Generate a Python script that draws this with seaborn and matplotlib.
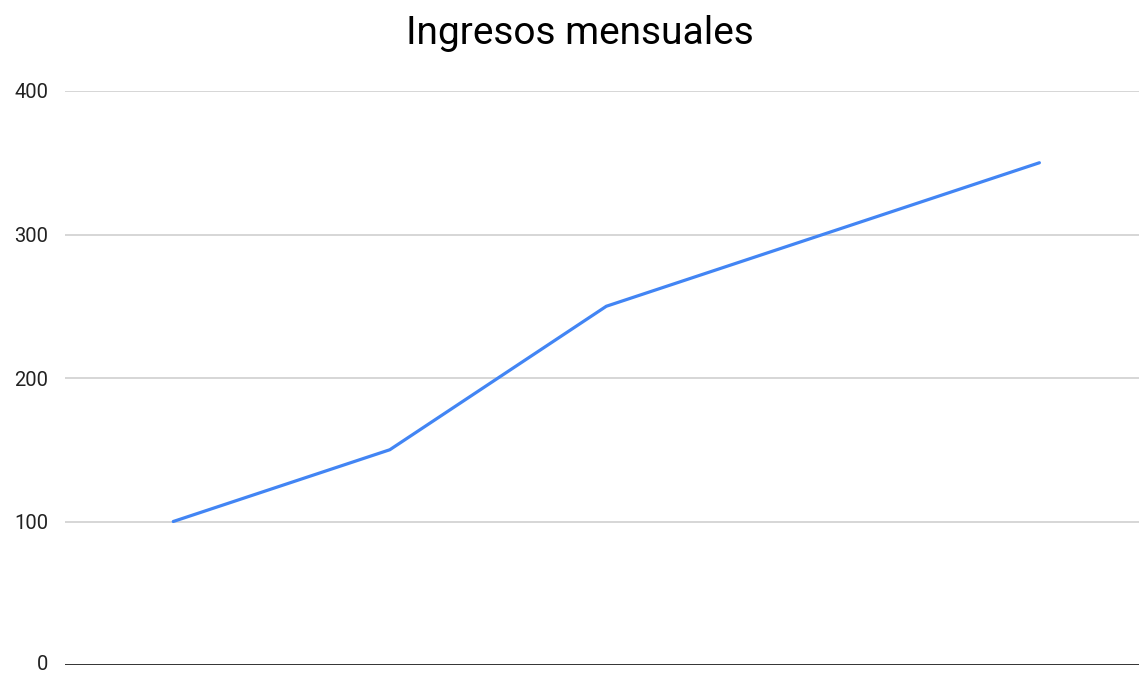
import matplotlib
matplotlib.use("Agg")
import matplotlib.pyplot as plt
import matplotlib.transforms as mtransforms
import seaborn as sns
import pandas as pd

months = ["Ene", "Feb", "Mar", "Abr", "May"]
ingresos = [100, 150, 250, 300, 350]
yticks = [0, 100, 200, 300, 400]

sns.set_theme(style="white")
plt.rcParams['font.family'] = ['Roboto', 'DejaVu Sans']

df = pd.DataFrame({"x": range(len(months)), "ingresos": ingresos})

fig = plt.figure(figsize=(11.39, 6.73), dpi=100)
ax = fig.add_axes([65/1139, 1-665/673, 1-65/1139, (665-91)/673])
sns.lineplot(data=df, x="x", y="ingresos", ax=ax, color="#4285F4", linewidth=2.3)

ax.set_xlim(-0.5, 4.46)
ax.set_ylim(0, 400)
ax.set_yticks(yticks)
ax.set_yticklabels([str(v) for v in yticks], fontsize=14.5, color="#222222")
ax.set_xticks([])
ax.set_xlabel("")
ax.set_ylabel("")
ax.tick_params(axis="y", length=0, pad=12)
# keep the bottom "0" label fully inside the canvas
lbl0 = ax.get_yticklabels()[0]
lbl0.set_transform(lbl0.get_transform() + mtransforms.ScaledTranslation(0, 3/100, fig.dpi_scale_trans))
for v in yticks[1:]:
    ax.axhline(v, color="#cccccc", linewidth=1.1, zorder=0)
ax.axhline(0, color="#333333", linewidth=1.4, zorder=1)
for s in ax.spines.values():
    s.set_visible(False)
ax.set_facecolor("white")
fig.patch.set_facecolor("white")
fig.text(580/1139, 1-33/673, "Ingresos mensuales", ha="center", va="center", fontsize=28, color="#000000")

fig.savefig("out.png", dpi=100, facecolor="white")
